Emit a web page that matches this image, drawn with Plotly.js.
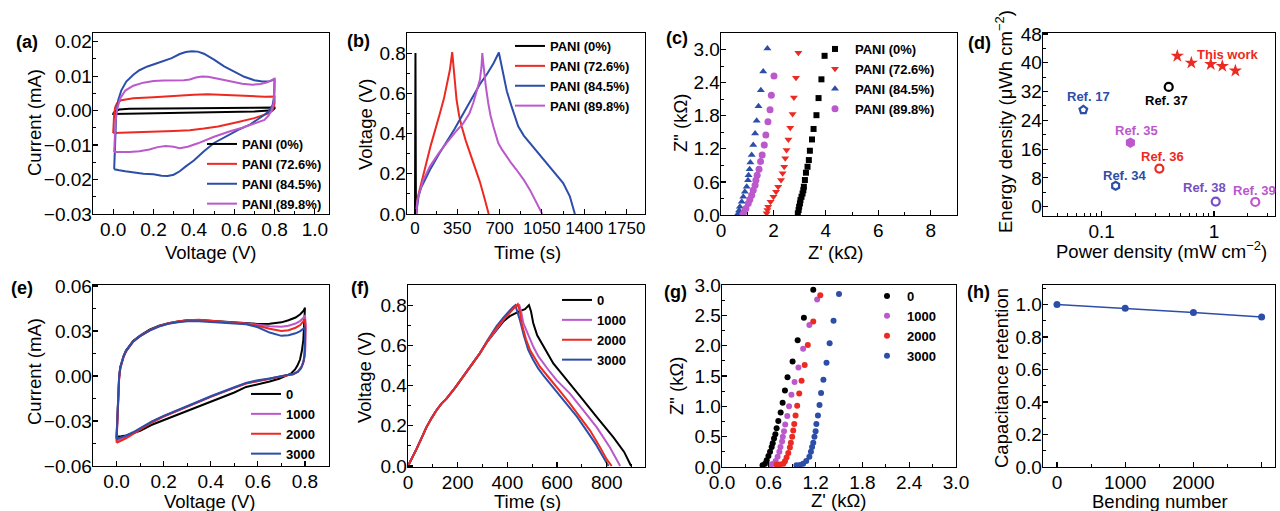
<!DOCTYPE html>
<html>
<head>
<meta charset="utf-8">
<script src="https://cdn.plot.ly/plotly-3.0.1.min.js"></script>
<style>
html,body{margin:0;padding:0;background:#fff;}
#chart{width:1280px;height:511px;}
</style>
</head>
<body>
<div id="chart"></div>
<script>
// ---------------- DATA ----------------
// (a) CV curves, PANI content
const aLegend = ['PANI (0%)','PANI (72.6%)','PANI (84.5%)','PANI (89.8%)'];
const aBlackV = [0.0,0.01,0.03,0.08,0.4,0.8,0.8,0.79,0.7,0.4,0.1,0.0,0.0];
const aBlackI = [-0.0008,-0.0002,0.0003,0.0005,0.0007,0.0009,0.0006,0.0001,-0.0003,-0.0006,-0.0009,-0.001,-0.0008];
const aRedV = [0.0,0.002,0.005,0.01,0.02,0.04,0.07,0.10,0.2,0.3,0.4,0.47,0.55,0.65,0.75,0.80,0.80,0.79,0.77,0.75,0.70,0.62,0.52,0.45,0.38,0.30,0.2,0.1,0.02,0.0];
const aRedI = [-0.0065,-0.004,-0.001,0.001,0.0022,0.003,0.0034,0.0036,0.0039,0.0043,0.0046,0.0047,0.0046,0.0043,0.0040,0.0041,0.002,0.0,-0.0008,-0.0012,-0.0022,-0.0033,-0.0046,-0.0052,-0.0057,-0.0059,-0.0061,-0.0062,-0.0063,-0.0065];
const aBlueV = [0.005,0.007,0.010,0.015,0.025,0.040,0.065,0.10,0.13,0.17,0.21,0.25,0.29,0.33,0.36,0.39,0.42,0.45,0.50,0.55,0.60,0.65,0.70,0.74,0.77,0.79,0.80,0.80,0.798,0.79,0.77,0.75,0.72,0.68,0.62,0.56,0.50,0.45,0.40,0.36,0.33,0.30,0.27,0.24,0.20,0.15,0.10,0.06,0.03,0.01,0.005];
const aBlueI = [-0.017,-0.012,-0.006,-0.001,0.003,0.0058,0.0084,0.0104,0.0117,0.0128,0.0136,0.0143,0.0152,0.0164,0.0170,0.0172,0.0171,0.0165,0.0148,0.0128,0.0112,0.0098,0.0088,0.0084,0.0084,0.0088,0.0093,0.007,0.004,0.0015,-0.0003,-0.0012,-0.0025,-0.0040,-0.0056,-0.0075,-0.0094,-0.0118,-0.0145,-0.0162,-0.0176,-0.0186,-0.0190,-0.0189,-0.0185,-0.0183,-0.0180,-0.0176,-0.0173,-0.0172,-0.017];
const aMagV = [0.005,0.008,0.012,0.02,0.035,0.06,0.10,0.15,0.20,0.25,0.30,0.35,0.38,0.41,0.44,0.47,0.52,0.58,0.64,0.69,0.73,0.76,0.785,0.80,0.80,0.795,0.785,0.77,0.75,0.70,0.64,0.58,0.50,0.42,0.37,0.33,0.30,0.26,0.22,0.18,0.13,0.08,0.03,0.005];
const aMagI = [-0.012,-0.008,-0.003,0.0005,0.0035,0.0058,0.0072,0.0081,0.0086,0.0087,0.0087,0.0088,0.0090,0.0096,0.0099,0.0098,0.0092,0.0085,0.0078,0.0075,0.0077,0.0081,0.0087,0.0092,0.006,0.002,0.0,-0.0015,-0.0027,-0.0038,-0.0050,-0.0060,-0.0076,-0.0095,-0.0105,-0.0109,-0.0105,-0.0103,-0.0106,-0.0113,-0.0118,-0.0120,-0.0121,-0.012];

// (b) GCD curves, PANI content
const bBlackT = [0,4,8];
const bBlackV = [0,0.8,0];
const bRedT = [12,18,30,50,70,96,130,152,180,207,240,262,289,308,315,325,344,365,386,420,455,500,537,570,600,610];
const bRedV = [0,0.06,0.1,0.15,0.2,0.27,0.34,0.386,0.44,0.502,0.575,0.634,0.717,0.805,0.75,0.67,0.568,0.49,0.436,0.365,0.303,0.23,0.16,0.09,0.03,0];
const bBlueT = [10,18,30,50,80,124,200,262,330,400,470,537,600,650,694,705,730,760,799,830,854,900,950,1020,1089,1160,1226,1281,1323];
const bBlueV = [0,0.05,0.09,0.13,0.17,0.22,0.3,0.36,0.425,0.5,0.575,0.645,0.7,0.75,0.803,0.77,0.684,0.61,0.535,0.475,0.436,0.39,0.353,0.303,0.253,0.2,0.154,0.088,0];
const bMagT = [10,18,28,69,124,200,262,330,400,450,482,510,537,550,557,565,570,585,606,625,648,670,689,720,758,800,840,900,951,1000,1053];
const bMagV = [0,0.06,0.088,0.17,0.237,0.305,0.353,0.405,0.452,0.5,0.552,0.61,0.667,0.73,0.8,0.75,0.717,0.64,0.552,0.49,0.436,0.385,0.353,0.32,0.286,0.25,0.22,0.17,0.12,0.065,0];

// (c) Nyquist, PANI content
const cBlackRe = [3.95,3.83,3.72,3.64,3.53,3.47,3.39,3.35,3.30,3.24,3.20,3.16,3.14,3.11,3.07,3.03,3.01,2.98,2.96,2.93];
const cBlackIm = [2.886,2.46,2.12,1.81,1.56,1.37,1.165,0.996,0.875,0.767,0.634,0.513,0.45,0.39,0.33,0.27,0.21,0.15,0.09,0.03];
const cRedRe = [2.95,2.86,2.78,2.73,2.64,2.57,2.50,2.45,2.41,2.35,2.29,2.18,2.10,2.00,1.89,1.80,1.77,1.74];
const cRedIm = [2.94,2.49,2.13,1.83,1.58,1.37,1.18,1.03,0.875,0.755,0.634,0.513,0.42,0.33,0.24,0.15,0.09,0.03];
const cBlueRe = [1.77,1.61,1.52,1.43,1.36,1.30,1.23,1.17,1.12,1.09,1.05,1.03,0.98,0.91,0.85,0.79,0.72,0.69,0.66];
const cBlueIm = [3.02,2.60,2.26,1.97,1.71,1.48,1.27,1.09,0.95,0.83,0.72,0.63,0.51,0.42,0.33,0.24,0.15,0.08,0.03];
const cMagRe = [2.02,1.92,1.87,1.79,1.71,1.65,1.57,1.51,1.45,1.38,1.33,1.30,1.23,1.17,1.10,1.04,0.95,0.89,0.83];
const cMagIm = [2.52,2.17,1.91,1.69,1.45,1.27,1.09,0.97,0.83,0.72,0.63,0.54,0.45,0.36,0.28,0.21,0.12,0.06,0.01];

// (d) Ragone plot
const dRefs = ['Ref. 17','Ref. 34','Ref. 35','Ref. 36','Ref. 37','Ref. 38','Ref. 39'];
const dRefPower = [0.0686,0.133,0.18,0.326,0.395,1.035,2.33];
const dRefEnergy = [26.9,5.8,17.8,10.6,33.3,1.4,1.3];
const dThisPower = [0.471,0.628,0.935,1.186,1.55];
const dThisEnergy = [41.9,40.0,39.6,39.1,37.8];

// (e) CV curves, bending cycles
const eLegend = ['0','1000','2000','3000'];
const e0V = [0.0,0.002,0.004,0.007,0.011,0.016,0.022,0.03,0.04,0.055,0.07,0.1,0.14,0.18,0.22,0.26,0.3,0.35,0.4,0.45,0.5,0.55,0.6,0.65,0.7,0.73,0.76,0.78,0.795,0.8,0.799,0.797,0.793,0.787,0.779,0.768,0.758,0.74,0.72,0.69,0.65,0.6,0.55,0.5,0.45,0.4,0.35,0.3,0.25,0.2,0.15,0.1,0.07,0.04,0.02,0.0,0.0];
const e0I = [-0.040,-0.032,-0.022,-0.010,0.0,0.006,0.010,0.0135,0.017,0.0205,0.0233,0.027,0.031,0.0335,0.0352,0.0363,0.0372,0.0373,0.0368,0.0362,0.0356,0.0351,0.0347,0.0349,0.0358,0.0372,0.039,0.0412,0.0438,0.0455,0.040,0.032,0.024,0.017,0.011,0.007,0.0044,0.0015,0.0,-0.0018,-0.0037,-0.0055,-0.0073,-0.011,-0.014,-0.017,-0.020,-0.0232,-0.0262,-0.0293,-0.0325,-0.0365,-0.0383,-0.0396,-0.0402,-0.0405,-0.040];
const e1000V = [0.0,0.002,0.004,0.007,0.011,0.016,0.022,0.03,0.04,0.055,0.07,0.1,0.14,0.18,0.22,0.26,0.3,0.35,0.4,0.45,0.5,0.55,0.6,0.65,0.7,0.73,0.76,0.78,0.795,0.8,0.803,0.803,0.801,0.796,0.786,0.77,0.75,0.72,0.69,0.65,0.6,0.55,0.5,0.45,0.4,0.35,0.3,0.25,0.2,0.15,0.1,0.07,0.04,0.02,0.0,0.0];
const e1000I = [-0.043,-0.034,-0.023,-0.011,-0.001,0.0055,0.0095,0.013,0.0165,0.020,0.023,0.0267,0.0305,0.0332,0.035,0.0361,0.0368,0.037,0.0366,0.0360,0.0355,0.035,0.0342,0.0332,0.0328,0.0335,0.035,0.0368,0.039,0.0405,0.034,0.025,0.017,0.011,0.0065,0.003,0.0012,0.0005,-0.0005,-0.0018,-0.003,-0.0048,-0.0077,-0.0105,-0.0137,-0.017,-0.0202,-0.0235,-0.0268,-0.0305,-0.0355,-0.038,-0.0405,-0.0418,-0.043,-0.043];
const e2000V = [0.0,0.002,0.004,0.007,0.011,0.016,0.022,0.03,0.04,0.055,0.07,0.1,0.14,0.18,0.22,0.26,0.3,0.35,0.4,0.45,0.5,0.55,0.6,0.65,0.7,0.73,0.76,0.78,0.795,0.8,0.802,0.802,0.8,0.795,0.785,0.77,0.75,0.72,0.69,0.65,0.6,0.55,0.5,0.45,0.4,0.35,0.3,0.25,0.2,0.15,0.1,0.07,0.04,0.02,0.0,0.0];
const e2000I = [-0.0445,-0.035,-0.024,-0.012,-0.002,0.005,0.0092,0.0128,0.0163,0.0198,0.0228,0.0266,0.0305,0.0333,0.0352,0.0364,0.0372,0.0375,0.037,0.0362,0.0355,0.0348,0.0335,0.0315,0.0300,0.0305,0.0322,0.034,0.0365,0.038,0.032,0.024,0.016,0.010,0.006,0.003,0.0012,0.0004,-0.0006,-0.0019,-0.0032,-0.005,-0.0079,-0.0107,-0.0139,-0.0172,-0.0204,-0.0237,-0.027,-0.031,-0.036,-0.0388,-0.0415,-0.043,-0.0445,-0.0445];
const e3000V = [0.0,0.002,0.004,0.007,0.011,0.016,0.022,0.03,0.04,0.055,0.07,0.1,0.14,0.18,0.22,0.26,0.3,0.35,0.4,0.45,0.5,0.55,0.6,0.65,0.7,0.73,0.76,0.78,0.795,0.8,0.8,0.799,0.797,0.792,0.783,0.77,0.75,0.72,0.69,0.65,0.6,0.55,0.5,0.45,0.4,0.35,0.3,0.25,0.2,0.15,0.1,0.07,0.04,0.02,0.0,0.0];
const e3000I = [-0.042,-0.033,-0.022,-0.010,-0.0005,0.0058,0.0098,0.0132,0.0166,0.020,0.0229,0.0266,0.0303,0.033,0.0348,0.0359,0.0365,0.0366,0.0362,0.0357,0.0352,0.0345,0.0325,0.029,0.0268,0.0272,0.0285,0.030,0.0318,0.0325,0.026,0.019,0.013,0.0085,0.005,0.0028,0.0014,0.0006,-0.0004,-0.0016,-0.0028,-0.0046,-0.0075,-0.0103,-0.0135,-0.0168,-0.02,-0.0233,-0.0266,-0.0302,-0.035,-0.0375,-0.0398,-0.041,-0.042,-0.042];

// (f) GCD curves, bending cycles
const f0T = [0,15,34,55,74,95,114,135,155,190,222,255,289,320,356,385,410,430,450,471,487,495,504,520,545,565,585,612,652,706,760,827,870,898];
const f0V = [0,0.035,0.084,0.14,0.192,0.238,0.276,0.31,0.335,0.39,0.444,0.5,0.56,0.62,0.678,0.72,0.745,0.758,0.77,0.78,0.8,0.77,0.711,0.65,0.594,0.55,0.51,0.469,0.41,0.326,0.243,0.142,0.07,0];
const f1000T = [0,15,34,55,74,95,114,135,155,190,222,255,289,320,356,385,410,430,448,456,464,484,504,525,545,570,598,625,652,706,760,813,854];
const f1000V = [0,0.035,0.084,0.14,0.192,0.238,0.276,0.31,0.335,0.39,0.444,0.5,0.56,0.62,0.682,0.728,0.765,0.79,0.8,0.765,0.711,0.65,0.594,0.545,0.51,0.47,0.427,0.395,0.36,0.276,0.192,0.092,0];
const f2000T = [0,15,34,55,74,95,114,135,155,190,222,255,289,320,356,385,410,430,442,450,457,475,491,510,531,560,585,620,652,690,733,770,800,820];
const f2000V = [0,0.035,0.084,0.14,0.192,0.238,0.276,0.31,0.335,0.39,0.444,0.5,0.56,0.62,0.686,0.728,0.765,0.79,0.805,0.77,0.711,0.63,0.577,0.535,0.494,0.45,0.41,0.36,0.31,0.245,0.176,0.1,0.033,0];
const f3000T = [0,15,34,55,74,95,114,135,155,190,222,255,289,320,356,383,405,422,432,440,450,466,484,503,524,548,571,605,639,680,719,755,787,807];
const f3000V = [0,0.035,0.084,0.14,0.192,0.238,0.276,0.31,0.335,0.39,0.444,0.5,0.56,0.625,0.695,0.737,0.77,0.79,0.8,0.77,0.728,0.65,0.577,0.53,0.485,0.445,0.41,0.36,0.31,0.245,0.176,0.11,0.042,0];

// (g) Nyquist, bending cycles
const g0Re = [1.17,1.05,0.97,0.905,0.84,0.807,0.777,0.752,0.722,0.70,0.684,0.667,0.65,0.637,0.616,0.595,0.573,0.552,0.52];
const g0Im = [2.92,2.46,2.09,1.74,1.48,1.26,1.06,0.90,0.76,0.64,0.54,0.47,0.39,0.33,0.25,0.18,0.11,0.055,0.03];
const g1000Re = [1.22,1.12,1.04,0.98,0.93,0.89,0.86,0.837,0.81,0.795,0.78,0.77,0.75,0.735,0.713,0.688,0.66,0.625];
const g1000Im = [2.76,2.34,1.95,1.64,1.40,1.19,1.00,0.84,0.70,0.59,0.50,0.42,0.33,0.25,0.17,0.10,0.055,0.04];
const g2000Re = [1.26,1.17,1.10,1.06,1.02,0.99,0.964,0.943,0.926,0.913,0.90,0.883,0.87,0.85,0.828,0.807,0.786,0.743,0.70];
const g2000Im = [2.83,2.40,2.01,1.68,1.42,1.21,1.01,0.85,0.71,0.60,0.50,0.40,0.32,0.23,0.155,0.095,0.055,0.04,0.04];
const g3000Re = [1.50,1.43,1.38,1.34,1.30,1.27,1.25,1.23,1.21,1.20,1.185,1.17,1.155,1.14,1.12,1.08,1.04,1.00,0.955];
const g3000Im = [2.85,2.41,2.04,1.72,1.44,1.22,1.02,0.85,0.71,0.59,0.50,0.40,0.33,0.25,0.17,0.10,0.055,0.035,0.03];

// (h) capacitance retention
const hBending = [0,1000,2000,3000];
const hRetention = [1.0,0.977,0.951,0.923];

// ---------------- STYLE ----------------
const F = 'Liberation Sans, Arial, sans-serif';
const BLACK = '#000000', RED = '#ec2a22', BLUE = '#2d4ea8', MAG = '#bb58cc', PURP = '#7450c2';
const W = 1280, H = 511;
const dX = (a,b) => [a/W, b/W];
const dY = (top,bottom) => [1-bottom/H, 1-top/H];

function ax(extra, isX){
  const base = {
    showline:true, linecolor:'#000', linewidth:1.3, mirror:true,
    ticks:'inside', ticklen:5, tickwidth:1.2, tickcolor:'#000',
    showgrid:false, zeroline:false, automargin:false, tickangle:0,
    ticklabelstandoff: isX ? -2 : -4,
    tickfont:{family:F, size:19, color:'#000'},
  };
  const o = Object.assign(base, extra);
  if (extra.mdt !== undefined){
    o.minor = {ticks:'inside', ticklen:3, tickwidth:1, tickcolor:'#000', dtick: extra.mdt, showgrid:false};
    delete o.mdt;
  }
  return o;
}
const axX = e => ax(e, true);
const axY = e => ax(e, false);
function leg(x, y){
  return {x: x/W, y: 1-y/H, xanchor:'left', yanchor:'top', bgcolor:'rgba(0,0,0,0)', borderwidth:0,
          font:{family:F, size:13, color:'#000'}, tracegroupgap:0, itemwidth:30};
}
const b = s => '<b>'+s+'</b>';
const line = (x,y,color,name,xa,ya,lg,rank) => ({type:'scatter', mode:'lines', x, y, name:b(name), line:{color, width:2}, xaxis:xa, yaxis:ya, legend:lg, legendrank:rank});
const pts = (x,y,color,symbol,name,xa,ya,lg,rank,size) => ({type:'scatter', mode:'markers', x, y, name:b(name), marker:{color, symbol, size:size||6, line:{width:0}}, xaxis:xa, yaxis:ya, legend:lg, legendrank:rank});

const traces = [
  // (a)
  line(aBlackV,aBlackI,BLACK,aLegend[0],'x','y','legend',1),
  line(aRedV,aRedI,RED,aLegend[1],'x','y','legend',2),
  line(aBlueV,aBlueI,BLUE,aLegend[2],'x','y','legend',3),
  line(aMagV,aMagI,MAG,aLegend[3],'x','y','legend',4),
  // (b)
  line(bBlackT,bBlackV,BLACK,aLegend[0],'x2','y2','legend2',1),
  line(bRedT,bRedV,RED,aLegend[1],'x2','y2','legend2',2),
  line(bBlueT,bBlueV,BLUE,aLegend[2],'x2','y2','legend2',3),
  line(bMagT,bMagV,MAG,aLegend[3],'x2','y2','legend2',4),
  // (c)
  pts(cBlackRe,cBlackIm,BLACK,'square',aLegend[0],'x3','y3','legend3',1,6),
  pts(cRedRe,cRedIm,RED,'triangle-down',aLegend[1],'x3','y3','legend3',2,7),
  pts(cBlueRe,cBlueIm,BLUE,'triangle-up',aLegend[2],'x3','y3','legend3',3,7),
  pts(cMagRe,cMagIm,MAG,'circle',aLegend[3],'x3','y3','legend3',4,7),
  // (d)
  {type:'scatter', mode:'markers', x:dRefPower, y:dRefEnergy, xaxis:'x4', yaxis:'y4', showlegend:false,
   marker:{symbol:['pentagon-open','hexagon-open','hexagon','circle-open','circle-open','circle-open','circle-open'],
           color:[BLUE,BLUE,MAG,RED,BLACK,PURP,MAG], size:8, line:{width:2.2, color:[BLUE,BLUE,MAG,RED,BLACK,PURP,MAG]}}},
  {type:'scatter', mode:'markers', x:dThisPower, y:dThisEnergy, xaxis:'x4', yaxis:'y4', showlegend:false,
   marker:{symbol:'star', color:RED, size:10, line:{width:0}}},
  // (e)
  line(e0V,e0I,BLACK,eLegend[0],'x5','y5','legend4',1),
  line(e1000V,e1000I,MAG,eLegend[1],'x5','y5','legend4',2),
  line(e2000V,e2000I,RED,eLegend[2],'x5','y5','legend4',3),
  line(e3000V,e3000I,BLUE,eLegend[3],'x5','y5','legend4',4),
  // (f)
  line(f0T,f0V,BLACK,eLegend[0],'x6','y6','legend5',1),
  line(f1000T,f1000V,MAG,eLegend[1],'x6','y6','legend5',2),
  line(f3000T,f3000V,BLUE,eLegend[3],'x6','y6','legend5',4),
  line(f2000T,f2000V,RED,eLegend[2],'x6','y6','legend5',3),
  // (g)
  pts(g0Re,g0Im,BLACK,'circle',eLegend[0],'x7','y7','legend6',1,6),
  pts(g1000Re,g1000Im,MAG,'circle',eLegend[1],'x7','y7','legend6',2,6),
  pts(g2000Re,g2000Im,RED,'circle',eLegend[2],'x7','y7','legend6',3,6),
  pts(g3000Re,g3000Im,BLUE,'circle',eLegend[3],'x7','y7','legend6',4,6),
  // (h)
  {type:'scatter', mode:'lines+markers', x:hBending, y:hRetention, xaxis:'x8', yaxis:'y8', showlegend:false,
   line:{color:BLUE, width:1.5}, marker:{color:BLUE, size:7, symbol:'circle'}},
];

// label positions for (d)
const dLabelX = [0.0763,0.160,0.206,0.348,0.379,0.823,2.27];
const dLabelY = [30.5,8.8,21.3,13.9,29.4,5.2,4.4];
const dLabelColor = [BLUE,BLUE,MAG,RED,BLACK,PURP,MAG];

const annotations = [];
const panelLabels = [['(a)',27,42],['(b)',358,41],['(c)',677,38],['(d)',979,43],['(e)',22,288],['(f)',360,288],['(g)',675,292],['(h)',978,292]];
panelLabels.forEach(p => annotations.push({text:'<b>'+p[0]+'</b>', xref:'paper', yref:'paper', x:p[1]/W, y:1-p[2]/H, xanchor:'center', yanchor:'middle', showarrow:false, font:{family:F, size:18, color:'#000'}}));
dRefs.forEach((r,i) => annotations.push({text:'<b>'+r+'</b>', xref:'x4', yref:'y4', x:Math.log10(dLabelX[i]), y:dLabelY[i], xanchor:'center', yanchor:'middle', showarrow:false, font:{family:F, size:13, color:dLabelColor[i]}}));
annotations.push({text:'<b>This work</b>', xref:'x4', yref:'y4', x:Math.log10(1.318), y:42.4, xanchor:'center', yanchor:'middle', showarrow:false, font:{family:F, size:13, color:RED}});

// axis titles: [text, centre x px, centre y px, rotated]
const axisTitles = [
  ['Voltage (V)',211,252,false], ['Current (mA)',34,123,true],
  ['Time (s)',527,252,false], ['Voltage (V)',365,124,true],
  ["Z' (kΩ)",835,252,false], ['Z" (kΩ)',680,123,true],
  ['Power density (mW cm<sup>−2</sup>)',1161,250,false], ['Energy density (μWh cm<sup>−2</sup>)',1004,122,true],
  ['Voltage (V)',210,501,false], ['Current (mA)',34,372,true],
  ['Time (s)',527,501,false], ['Voltage (V)',364,377,true],
  ["Z' (kΩ)",838,500,false], ['Z" (kΩ)',676,386,true],
  ['Bending number',1160,501,false], ['Capacitance retention',1001,378,true],
];
axisTitles.forEach(t => annotations.push({text:t[0], xref:'paper', yref:'paper', x:t[1]/W, y:1-t[2]/H, xanchor:'center', yanchor:'middle', textangle:t[3]?-90:0, showarrow:false, font:{family:F, size:18.5, color:'#000'}}));

const layout = {
  width:W, height:H, margin:{l:0,r:0,t:0,b:0}, paper_bgcolor:'#fff', plot_bgcolor:'#fff',
  font:{family:F, color:'#000'},
  // (a)
  xaxis: axX({domain:dX(93,329), anchor:'y', range:[-0.1,1.07], tickvals:[0,0.2,0.4,0.6,0.8,1.0], tickformat:'.1f', mdt:0.1}),
  yaxis: axY({domain:dY(33,214), anchor:'x', range:[-0.03,0.0225], tickvals:[-0.03,-0.02,-0.01,0,0.01,0.02], tickformat:'.2f', mdt:0.005}),
  // (b)
  xaxis2: axX({domain:dX(407,645), anchor:'y2', range:[-66,1903], tickvals:[0,350,700,1050,1400,1750], mdt:175, tickfont:{family:F, size:17, color:'#000'}}),
  yaxis2: axY({domain:dY(33,214), anchor:'x2', range:[0,0.9], tickvals:[0,0.2,0.4,0.6,0.8], tickformat:'.1f', mdt:0.1}),
  // (c)
  xaxis3: axX({domain:dX(721,957), anchor:'y3', range:[0,9], tickvals:[0,2,4,6,8], mdt:1}),
  yaxis3: axY({domain:dY(33,215), anchor:'x3', range:[0,3.3], tickvals:[0,0.6,1.2,1.8,2.4,3.0], tickformat:'.1f', mdt:0.3}),
  // (d)
  xaxis4: Object.assign(axX({domain:dX(1043,1275), anchor:'y4', type:'log', range:[-1.523,0.543], tickvals:[0.1,1], ticktext:['0.1','1']}),
          {minor:{ticks:'inside', ticklen:3, tickwidth:1, tickcolor:'#000', tickmode:'array', tickvals:[0.04,0.05,0.06,0.07,0.08,0.09,0.2,0.3,0.4,0.5,0.6,0.7,0.8,0.9,2,3], showgrid:false}}),
  yaxis4: axY({domain:dY(33,216), anchor:'x4', range:[-2.6,48.3], tickvals:[0,8,16,24,32,40,48], mdt:4}),
  // (e)
  xaxis5: axX({domain:dX(93,329), anchor:'y5', range:[-0.1,0.902], tickvals:[0,0.2,0.4,0.6,0.8], tickformat:'.1f', mdt:0.1}),
  yaxis5: axY({domain:dY(285,466), anchor:'x5', range:[-0.06,0.0607], tickvals:[-0.06,-0.03,0,0.03,0.06], tickformat:'.2f', mdt:0.015}),
  // (f)
  xaxis6: axX({domain:dX(408,645), anchor:'y6', range:[0,954], tickvals:[0,200,400,600,800], mdt:100}),
  yaxis6: axY({domain:dY(285,467), anchor:'x6', range:[-0.005,0.9], tickvals:[0,0.2,0.4,0.6,0.8], tickformat:'.1f', mdt:0.1}),
  // (g)
  xaxis7: axX({domain:dX(722,956), anchor:'y7', range:[0,3.0], tickvals:[0,0.6,1.2,1.8,2.4,3.0], tickformat:'.1f', mdt:0.3}),
  yaxis7: axY({domain:dY(285,467), anchor:'x7', range:[0,3.0], tickvals:[0,0.5,1.0,1.5,2.0,2.5,3.0], tickformat:'.1f', mdt:0.25}),
  // (h)
  xaxis8: axX({domain:dX(1043,1275), anchor:'y8', range:[-205,3196], tickvals:[0,1000,2000,3000], mdt:500}),
  yaxis8: axY({domain:dY(285,467), anchor:'x8', range:[0,1.12], tickvals:[0,0.2,0.4,0.6,0.8,1.0], tickformat:'.1f', mdt:0.1}),
  legend: leg(202,129),
  legend2: leg(510,31),
  legend3: leg(815,34),
  legend4: leg(246,379),
  legend5: leg(557,285),
  legend6: leg(867,281),
  annotations,
  showlegend:true,
};

Plotly.newPlot('chart', traces, layout, {staticPlot:true, displayModeBar:false});
</script>
</body>
</html>
